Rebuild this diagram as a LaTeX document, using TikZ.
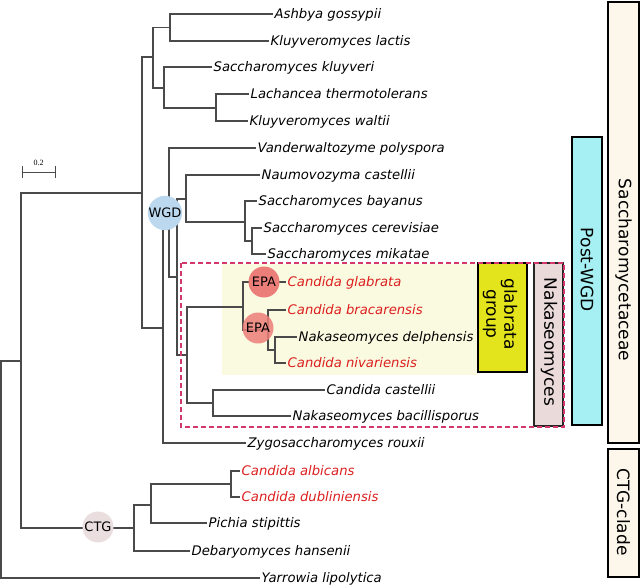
\documentclass[tikz,border=0pt]{standalone}
\usepackage{fontspec}
\setmainfont{DejaVu Sans}
\newfontfamily\barfont{Liberation Serif}

\definecolor{branchgray}{HTML}{4A4A4A}
\definecolor{leafred}{HTML}{DC1F1F}
\definecolor{nakadash}{HTML}{D2386E}
\definecolor{glabbg}{HTML}{FAFAE1}
\definecolor{glabfill}{HTML}{E4E41C}
\definecolor{nakafill}{HTML}{EADADA}
\definecolor{wgdfill}{HTML}{A6F0F3}
\definecolor{saccfill}{HTML}{FDF6EA}
\definecolor{wgdcirc}{HTML}{BCD8EE}
\definecolor{epacirc}{HTML}{EC7E79}
\definecolor{ctgcirc}{HTML}{EADEDE}

\begin{document}
\begin{tikzpicture}[
    x=1pt, y=-1pt,
    branch/.style={draw=branchgray, line width=1.1pt},
    leaf/.style={anchor=west, inner sep=1.5pt, text height=10.5pt, text depth=2pt,
      font=\fontsize{13.2}{15}\selectfont\itshape},
    redleaf/.style={leaf, text=leafred},
    event/.style={circle, inner sep=0pt, minimum size=31pt,
      font=\fontsize{13}{15}\selectfont},
    cladebox/.style={draw=black, line width=1.8pt},
    cladelabel/.style={rotate=-90, align=center, inner sep=0pt,
      font=\fontsize{17}{18}\selectfont}
  ]

    \useasboundingbox (0,0) rectangle (640,587);

    %=== glabrata group background ===%
    \fill[glabbg] (222,264) rectangle (478,375);

    %=== leaves (top to bottom) ===%
    \node[leaf] (agos) at (273, 14)  {Ashbya gossypii};
    \node[leaf] (klac) at (269, 41)  {Kluyveromyces lactis};
    \node[leaf] (sklu) at (212, 67)  {Saccharomyces kluyveri};
    \node[leaf] (lthe) at (249, 94)  {Lachancea thermotolerans};
    \node[leaf] (kwal) at (248,121)  {Kluyveromyces waltii};
    \node[leaf] (vpol) at (256,148)  {Vanderwaltozyme polyspora};
    \node[leaf] (ncas) at (260,175)  {Naumovozyma castellii};
    \node[leaf] (sbay) at (257,201)  {Saccharomyces bayanus};
    \node[leaf] (scer) at (262,228)  {Saccharomyces cerevisiae};
    \node[leaf] (smik) at (266,254)  {Saccharomyces mikatae};
    \node[redleaf] (cgla) at (286,282) {Candida glabrata};
    \node[redleaf] (cbra) at (286,310) {Candida bracarensis};
    \node[leaf] (ndel) at (297,337)  {Nakaseomyces delphensis};
    \node[redleaf] (cniv) at (286,363) {Candida nivariensis};
    \node[leaf] (ccas) at (325,390)  {Candida castellii};
    \node[leaf] (nbac) at (291,416)  {Nakaseomyces bacillisporus};
    \node[leaf] (zrou) at (246,443)  {Zygosaccharomyces rouxii};
    \node[redleaf] (calb) at (240,471) {Candida albicans};
    \node[redleaf] (cdub) at (240,497) {Candida dubliniensis};
    \node[leaf] (psti) at (207,523)  {Pichia stipittis};
    \node[leaf] (dhan) at (190,551)  {Debaryomyces hansenii};
    \node[leaf] (ylip) at (260,578)  {Yarrowia lipolytica};

    %=== inner nodes ===%
    \coordinate (root) at (1,469);
    \coordinate (n21)  at (21,361);
    \coordinate (n142) at (142,193);
    \coordinate (n153) at (153,57);
    \coordinate (n170) at (170,27.5);
    \coordinate (n164) at (164,88);
    \coordinate (n216) at (216,108);
    \coordinate (n163) at (163,328);
    \coordinate (n169) at (169,213);
    \coordinate (n177) at (177,277);
    \coordinate (n186) at (186,199);
    \coordinate (n245) at (245,222);
    \coordinate (n252) at (252,241);
    \coordinate (n187) at (187,355);
    \coordinate (n243) at (243,307);
    \coordinate (n268) at (268,330);
    \coordinate (n275) at (275,350);
    \coordinate (n213) at (213,403);
    \coordinate (n134) at (134,528);
    \coordinate (n151) at (151,505);
    \coordinate (n231) at (231,484);

    %=== branches (parent -> child) ===%
    \foreach \pnode/\cnode in {root/n21, root/ylip, n21/n142, n21/n134,
        n142/n153, n142/n163, n153/n170, n153/n164, n170/agos, n170/klac,
        n164/sklu, n164/n216, n216/lthe, n216/kwal,
        n163/n169, n163/zrou, n169/vpol, n169/n177, n177/n186, n177/n187,
        n186/ncas, n186/n245, n245/sbay, n245/n252, n252/scer, n252/smik,
        n187/n243, n187/n213, n243/cgla, n243/n268, n268/cbra, n268/n275,
        n275/ndel, n275/cniv, n213/ccas, n213/nbac,
        n134/n151, n134/dhan, n151/n231, n151/psti, n231/calb, n231/cdub}{
      \draw[branch] (\pnode) |- (\cnode);
    }

    %=== events on the tree ===%
    \node[event, fill=wgdcirc] (wgd)  at (165,213) {WGD};
    \node[event, fill=epacirc] (epa1) at (264,282) {EPA};
    \node[event, fill=epacirc, opacity=.85, text opacity=1] (epa2) at (258,328) {EPA};
    \node[event, fill=ctgcirc] (ctg)  at (98,527) {CTG};

    %=== scale bar ===%
    \coordinate (sbl) at (22,172);
    \coordinate (sbr) at (55,172);
    \draw[branch, line width=1pt] (sbl) -- (sbr);
    \draw[branch, line width=1pt] ([yshift=-6pt]sbl) -- ([yshift=6pt]sbl);
    \draw[branch, line width=1pt] ([yshift=-6pt]sbr) -- ([yshift=6pt]sbr);
    \node[font=\barfont\fontsize{8}{9}\selectfont, inner sep=0pt] (sblab) at (38.5,163) {0.2};

    %=== clade boxes ===%
    \draw[cladebox, fill=saccfill] (608,2) rectangle (639,443);
    \draw[cladebox, fill=saccfill] (608,449) rectangle (639,577);
    \draw[cladebox, fill=wgdfill] (572,137) rectangle (602,425);
    \draw[draw=black!85, line width=1.4pt, fill=nakafill] (534,263) rectangle (563,426);
    \draw[draw=black, line width=2.4pt, fill=glabfill] (478,263) rectangle (527,372);
    \draw[nakadash, line width=1.5pt, dash pattern=on 5pt off 3pt] (181,263) rectangle (564,427);

    \node[cladelabel] (sacc)  at (623.5,270) {Saccharomycetaceae};
    \node[cladelabel] (ctgcl) at (623.5,512) {CTG-clade};
    \node[cladelabel] (pwgd)  at (587,270) {Post-WGD};
    \node[cladelabel] (naka)  at (549,342) {Nakaseomyces};
    \node[cladelabel] (glab)  at (500,314) {glabrata\\group};

  \end{tikzpicture}
\end{document}
